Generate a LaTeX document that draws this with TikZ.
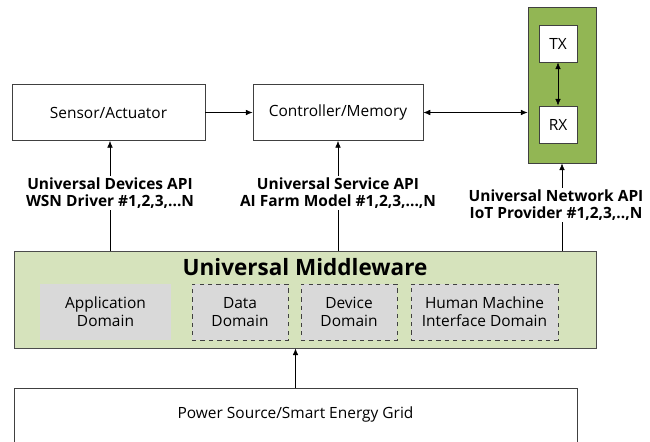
\documentclass[tikz,border=0pt]{standalone}
\usepackage{fontspec}
\setmainfont{Open Sans}
\usetikzlibrary{arrows.meta}
\definecolor{netgreen}{RGB}{146,182,84}
\definecolor{mwgreen}{RGB}{214,227,188}
\definecolor{domgray}{RGB}{217,217,217}

\begin{document}
\begin{tikzpicture}[x=0.025cm, y=-0.025cm, font=\fontsize{11}{13}\selectfont,
  >={Latex[length=1.7mm,width=1.4mm]}]

\tikzstyle{blk} = [rectangle, draw=black!75, fill=white, line width=0.6pt, minimum height=1.4cm]
\tikzstyle{dom} = [rectangle, fill=domgray, minimum height=1.4cm, align=center, inner sep=1pt]
\tikzstyle{api} = [align=center, font=\fontsize{11}{12.3}\selectfont\bfseries, inner sep=1pt]

\useasboundingbox (0,0) rectangle (650,441);
\clip (0,0) rectangle (650,441);

\node[blk, minimum width=4.825cm] (sens) at (108.5,112.5) {Sensor/Actuator};
\node[blk, minimum width=4.25cm] (ctrl) at (338,112.5) {Controller/Memory};

\node[rectangle, draw=black!75, fill=netgreen, line width=0.6pt,
      minimum width=1.7cm, minimum height=3.9cm] (net) at (562,85) {};
\node[blk, minimum width=0.95cm, minimum height=0.925cm] (tx) at (558,43.5) {TX};
\node[blk, minimum width=0.95cm, minimum height=0.925cm] (rx) at (558,124.5) {RX};

\node[api] (devapi) at (110,193) {Universal Devices API\\WSN Driver \#1,2,3,...N};
\node[api] (srvapi) at (338,193) {Universal Service API\\AI Farm Model \#1,2,3,...,N};
\node[api] (netapi) at (556,205) {Universal Network API\\IoT Provider \#1,2,3,..,N};

\node[rectangle, draw=black!70, fill=mwgreen, line width=0.6pt,
      minimum width=14.55cm, minimum height=2.425cm] (mw) at (305,299.5) {};
\node[font=\fontsize{16}{18}\selectfont\bfseries] (mwt) at (305,267) {Universal Middleware};
\node[dom, minimum width=3.275cm] (app) at (105.5,312) {Application\\Domain};
\node[dom, draw=black!75, dashed, minimum width=2.4cm] (data) at (240,312) {Data\\Domain};
\node[dom, draw=black!75, dashed, minimum width=2.4cm] (dev) at (349,312) {Device\\Domain};
\node[dom, draw=black!75, dashed, minimum width=3.675cm] (hmi) at (484.5,312) {Human Machine\\Interface Domain};

\node[blk, minimum width=14.075cm, minimum height=2.2cm, anchor=north] (pw) at (295.5,388) {};
\node (pwt) at (295.5,414) {Power Source/Smart Energy Grid};

\draw[->] (sens) -- (ctrl);
\draw[<->] (ctrl.east) -- (ctrl.east -| net.west);
\draw[<->] (tx) -- (rx);

\draw[->] (devapi.north) -- (devapi.north |- sens.south);
\draw (devapi.south) -- (devapi.south |- mw.north);
\draw[->] (srvapi.north) -- (srvapi.north |- ctrl.south);
\draw (srvapi.south) -- (srvapi.south |- mw.north);
\draw[->] (net.south |- netapi.north) -- (net.south);
\draw (net.south |- netapi.south) -- (net.south |- mw.north);

\draw[->] (pw.north) -- (mw.south -| pw.north);
\end{tikzpicture}
\end{document}
